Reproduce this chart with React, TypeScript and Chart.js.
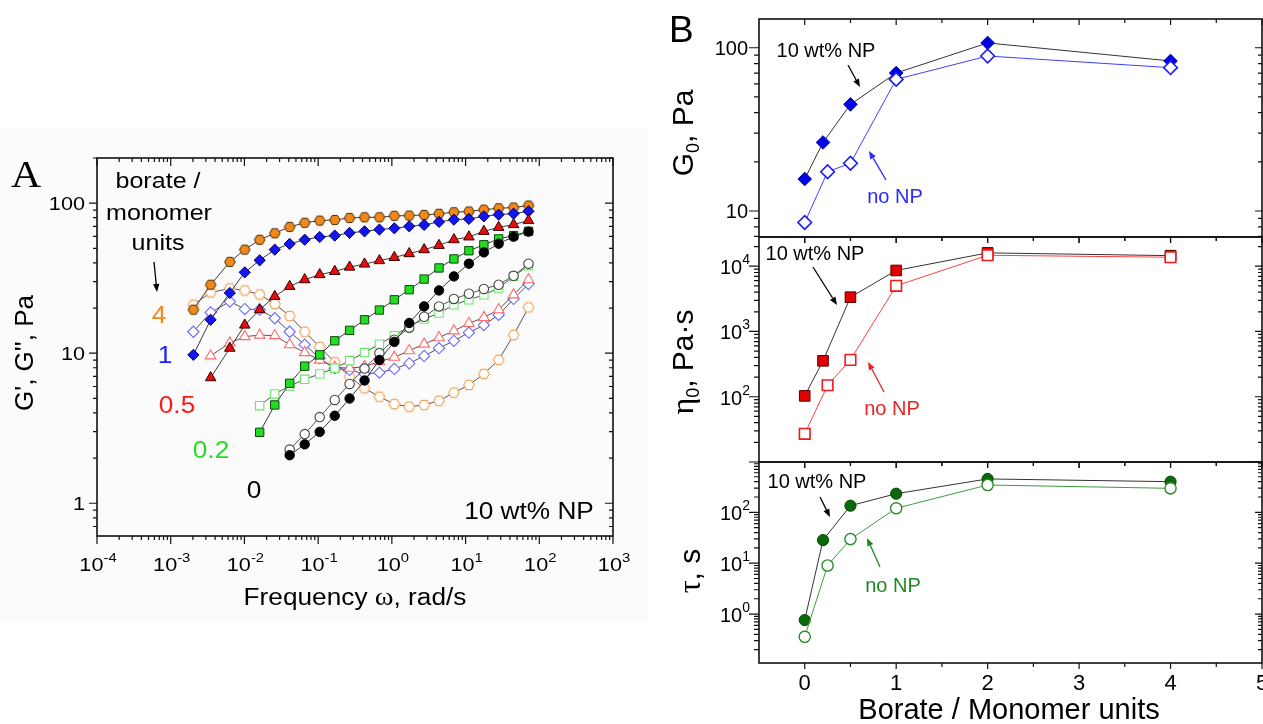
import React, { useEffect, useRef } from "react";
import { Chart, registerables } from "chart.js";
Chart.register(...registerables);

const W = 1263;
const H = 724;
const SANS = '"Liberation Sans", Arial, sans-serif';
const SERIF = '"Liberation Serif", "Times New Roman", serif';

// ---------------- Panel A data (frequency sweep, 10 wt% NP) ----------------
const omega = [0.00203, 0.00348, 0.00634, 0.0101, 0.0161, 0.0258, 0.0411, 0.0657, 0.105, 0.168, 0.267, 0.426, 0.678, 1.08, 1.72, 2.74, 4.36, 6.95, 11.1, 17.7, 28.1, 44.8, 71.4];
// borate/monomer = 4 (starts at omega[0])
const gp4 = [19.5, 28.6, 40.6, 49, 57, 63, 69.5, 74, 76.5, 77.3, 79.7, 80.5, 80.5, 82.3, 82.6, 83.5, 85, 87, 88, 90.5, 92.5, 93.5, 96.4];
const gpp4 = [21, 25.4, 27, 26.2, 24.6, 21.3, 17.7, 13.9, 11.0, 8.7, 6.98, 5.83, 5.13, 4.58, 4.4, 4.52, 4.82, 5.46, 6.14, 7.28, 9.02, 13.2, 20.2];
// borate/monomer = 1 (starts at omega[0])
const gp1 = [9.75, 16.7, 25.2, 34.6, 41.6, 49, 53.5, 57.1, 59.5, 60.8, 63.4, 64.9, 66.7, 68, 70.1, 71.6, 75, 77.6, 78.5, 81.7, 83.9, 85.2, 88.3];
const gpp1 = [13.9, 18.7, 22.1, 19.7, 19.5, 17.1, 13.9, 11.4, 9.26, 7.94, 7.73, 7.27, 7.42, 7.85, 8.57, 9.59, 10.8, 12.1, 13.7, 15.4, 18, 23, 28.9];
// borate/monomer = 0.5 (starts at omega[1])
const gp05 = [6.87, 10.8, 15.4, 19.5, 23.9, 27.9, 30.9, 33.4, 35.1, 37.5, 39.3, 41.4, 43.5, 46.1, 49, 52.3, 57.1, 59.6, 64.9, 69, 72, 76.6];
const gpp05 = [9.6, 11.7, 12.9, 13.2, 13.1, 11.4, 10.1, 9.0, 8.06, 7.94, 8.15, 8.79, 9.4, 10.4, 11.5, 12.7, 14.1, 15.8, 17.3, 19.5, 24.5, 30.9];
// borate/monomer = 0.2 (starts at omega[4])
const gp02 = [2.97, 4.52, 6.3, 8.2, 9.75, 12.1, 14.2, 16.7, 19.4, 22.7, 26.5, 31.2, 37, 42.5, 48.2, 52.8, 57.8, 60.8, 64.9];
const gpp02 = [4.47, 5.35, 6.05, 6.7, 7.28, 7.94, 8.93, 10.1, 11.5, 13.1, 15.1, 16.9, 18.5, 21, 22.7, 24.5, 27.2, 32.5, 38.3];
// borate/monomer = 0 (starts at omega[6])
const gp0 = [2.09, 2.47, 2.99, 3.83, 4.99, 6.58, 9.02, 11.9, 15.9, 20.5, 26.2, 32.5, 39.5, 47, 53.7, 59.8, 64.6];
const gpp0 = [2.28, 2.89, 3.75, 4.88, 6.24, 7.9, 10.0, 12.3, 14.8, 17.5, 20.5, 23, 24.9, 26.8, 28.6, 32.8, 39.5];

const xTicksA = [1e-4, 1e-3, 1e-2, 1e-1, 1, 10, 100, 1000];
const xTickExpA = ["-4", "-3", "-2", "-1", "0", "1", "2", "3"];
const yTicksA = [1, 10, 100];
const yTickLabA = ["1", "10", "100"];

// ---------------- Panel B data ----------------
const ratioNP = [0, 0.2, 0.5, 1, 2, 4];
const ratioNoNP = [0, 0.25, 0.5, 1, 2, 4];
const g0NP = [15.7, 26.3, 45, 70, 107, 83];
const g0NoNP = [8.5, 17.4, 19.6, 64, 89, 75.5];
const etaNP = [103, 355, 3350, 8600, 16000, 14500];
const etaNoNP = [27, 150, 367, 5000, 14700, 13700];
const tauNP = [0.76, 28.4, 135, 232, 453, 400];
const tauNoNP = [0.357, 9, 29.7, 120, 344, 296];

const xTicksB = [0, 1, 2, 3, 4, 5];
const xMinorB = [0.5, 1.5, 2.5, 3.5, 4.5];
const yTicksG0 = [10, 100];
const yTicksEta = [100, 1000, 10000];
const yTicksTau = [1, 10, 100];

// ---------------- helpers ----------------
const fnt = (size: number, fam: string = SANS) => `${size}px ${fam}`;

function pts(xs: number[], ys: number[], start = 0) {
  return ys.map((y, i) => ({ x: xs[i + start], y }));
}

function logTicks(min: number, max: number) {
  const major: number[] = [];
  const minor: number[] = [];
  for (let e = Math.floor(Math.log10(min)) - 1; e <= Math.ceil(Math.log10(max)); e++) {
    for (let k = 1; k <= 9; k++) {
      const v = k * Math.pow(10, e);
      if (v < min * 0.9999 || v > max * 1.0001) continue;
      (k === 1 ? major : minor).push(v);
    }
  }
  return { major, minor };
}

type Seg = { t: string; font: string; dy?: number };

function drawRich(ctx: any, segs: Seg[], x: number, y: number, o: any = {}) {
  const align = o.align || "left";
  ctx.save();
  ctx.translate(x, y);
  if (o.rot) ctx.rotate(o.rot);
  ctx.scale(o.sx || 1, 1);
  let w = 0;
  for (const s of segs) {
    ctx.font = s.font;
    w += ctx.measureText(s.t).width;
  }
  let cx = align === "center" ? -w / 2 : align === "right" ? -w : 0;
  ctx.fillStyle = o.color || "#000";
  ctx.textAlign = "left";
  ctx.textBaseline = "alphabetic";
  for (const s of segs) {
    ctx.font = s.font;
    ctx.fillText(s.t, cx, s.dy || 0);
    cx += ctx.measureText(s.t).width;
  }
  ctx.restore();
}

function arrow(ctx: any, x1: number, y1: number, x2: number, y2: number, color: string) {
  const ang = Math.atan2(y2 - y1, x2 - x1);
  const hl = 8, hw = 3.2;
  const bx = x2 - hl * Math.cos(ang), by = y2 - hl * Math.sin(ang);
  ctx.save();
  ctx.strokeStyle = color;
  ctx.fillStyle = color;
  ctx.lineWidth = 1.3;
  ctx.beginPath();
  ctx.moveTo(x1, y1);
  ctx.lineTo(bx, by);
  ctx.stroke();
  ctx.beginPath();
  ctx.moveTo(x2, y2);
  ctx.lineTo(bx + hw * Math.sin(ang), by - hw * Math.cos(ang));
  ctx.lineTo(bx - hw * Math.sin(ang), by + hw * Math.cos(ang));
  ctx.closePath();
  ctx.fill();
  ctx.restore();
}

function makeHex(r: number, fill: string, stroke: string, lw: number) {
  const size = Math.ceil(2 * r + lw + 2);
  const c = document.createElement("canvas");
  c.width = size;
  c.height = size;
  const g = c.getContext("2d")!;
  const cx = size / 2, cy = size / 2;
  g.beginPath();
  for (let i = 0; i < 6; i++) {
    const a = (Math.PI / 3) * i;
    const px = cx + r * Math.cos(a), py = cy + r * Math.sin(a);
    if (i === 0) g.moveTo(px, py);
    else g.lineTo(px, py);
  }
  g.closePath();
  g.fillStyle = fill;
  g.fill();
  g.lineWidth = lw;
  g.strokeStyle = stroke;
  g.stroke();
  return c;
}

function baseOptions(l: number, t: number, r: number, b: number, xs: any, ys: any) {
  return {
    responsive: false,
    maintainAspectRatio: false,
    animation: false,
    devicePixelRatio: 1,
    events: [],
    layout: { autoPadding: false, padding: { left: l, top: t, right: W - r, bottom: H - b } },
    scales: {
      x: { ...xs, display: false, bounds: "data" },
      y: { ...ys, display: false, bounds: "data" },
    },
    plugins: { legend: { display: false }, tooltip: { enabled: false }, title: { display: false } },
    elements: { line: { tension: 0 } },
  };
}

// ---------------- Panel A decorations ----------------
function drawA(chart: any) {
  const ctx = chart.ctx;
  const ca = chart.chartArea;
  const xs = chart.scales.x;
  const ys = chart.scales.y;
  ctx.save();
  ctx.strokeStyle = "#111";
  ctx.lineWidth = 1.6;
  ctx.strokeRect(ca.left, ca.top, ca.right - ca.left, ca.bottom - ca.top);
  ctx.lineWidth = 1.2;
  const tx = logTicks(xs.min, xs.max);
  const ty = logTicks(ys.min, ys.max);
  ctx.beginPath();
  const vt = (v: number, len: number) => {
    const p = xs.getPixelForValue(v);
    ctx.moveTo(p, ca.bottom);
    ctx.lineTo(p, ca.bottom + len);
    ctx.moveTo(p, ca.top);
    ctx.lineTo(p, ca.top + len);
  };
  const ht = (v: number, len: number) => {
    const p = ys.getPixelForValue(v);
    ctx.moveTo(ca.left, p);
    ctx.lineTo(ca.left - len, p);
    ctx.moveTo(ca.right, p);
    ctx.lineTo(ca.right - len, p);
  };
  tx.major.forEach((v) => vt(v, 8));
  tx.minor.forEach((v) => vt(v, 4));
  ty.major.forEach((v) => ht(v, 8));
  ty.minor.forEach((v) => ht(v, 4));
  ctx.stroke();

  const sx = 1.14;
  xTicksA.forEach((v, i) => {
    const p = xs.getPixelForValue(v);
    drawRich(ctx, [{ t: "10", font: fnt(19) }, { t: xTickExpA[i], font: fnt(13), dy: -9 }], p + 1, 571, { align: "center", sx });
  });
  yTicksA.forEach((v, i) => {
    const p = ys.getPixelForValue(v);
    drawRich(ctx, [{ t: yTickLabA[i], font: fnt(19) }], ca.left - 12, p + 7, { align: "right", sx });
  });

  // titles
  drawRich(ctx, [{ t: "A", font: fnt(38, SERIF) }], 11, 187, { sx: 1.1 });
  drawRich(ctx, [{ t: "G', G'', Pa", font: fnt(26) }], 33, 353, { align: "center", rot: -Math.PI / 2 });
  drawRich(ctx, [
    { t: "Frequency ", font: fnt(23) },
    { t: "\u03c9", font: fnt(25, SERIF) },
    { t: ", rad/s", font: fnt(23) },
  ], 355, 605, { align: "center", sx });

  // legend-like annotations
  drawRich(ctx, [{ t: "borate /", font: fnt(22) }], 158, 188, { align: "center", sx });
  drawRich(ctx, [{ t: "monomer", font: fnt(22) }], 159, 220, { align: "center", sx });
  drawRich(ctx, [{ t: "units", font: fnt(22) }], 158, 250, { align: "center", sx });
  arrow(ctx, 154, 262, 157, 292, "#000");
  drawRich(ctx, [{ t: "4", font: fnt(23) }], 159, 323, { align: "center", sx, color: "#f08a1e" });
  drawRich(ctx, [{ t: "1", font: fnt(23) }], 165, 363, { align: "center", sx, color: "#1a1aff" });
  drawRich(ctx, [{ t: "0.5", font: fnt(23) }], 177, 413, { align: "center", sx, color: "#ff1a1a" });
  drawRich(ctx, [{ t: "0.2", font: fnt(23) }], 211, 458, { align: "center", sx, color: "#22dd22" });
  drawRich(ctx, [{ t: "0", font: fnt(23) }], 254, 498, { align: "center", sx, color: "#000" });
  drawRich(ctx, [{ t: "10 wt% NP", font: fnt(23) }], 529, 519, { align: "center", sx });
  ctx.restore();
}

// ---------------- Panel B decorations ----------------
function frameB(chart: any) {
  const ctx = chart.ctx;
  const ca = chart.chartArea;
  const xs = chart.scales.x;
  const ys = chart.scales.y;
  ctx.save();
  ctx.strokeStyle = "#111";
  ctx.lineWidth = 1.6;
  ctx.strokeRect(ca.left, ca.top, ca.right - ca.left, ca.bottom - ca.top);
  ctx.lineWidth = 1.2;
  ctx.beginPath();
  const vt = (v: number, len: number) => {
    const p = xs.getPixelForValue(v);
    ctx.moveTo(p, ca.top);
    ctx.lineTo(p, ca.top + len);
    ctx.moveTo(p, ca.bottom);
    ctx.lineTo(p, ca.bottom + len);
  };
  xTicksB.forEach((v) => vt(v, 6));
  xMinorB.forEach((v) => vt(v, 4));
  const ty = logTicks(ys.min, ys.max);
  const ht = (v: number, lo: number, li: number) => {
    const p = ys.getPixelForValue(v);
    ctx.moveTo(ca.left, p);
    ctx.lineTo(ca.left - lo, p);
    ctx.moveTo(ca.right, p);
    ctx.lineTo(ca.right - li, p);
  };
  ty.major.forEach((v) => ht(v, 10, 7));
  ty.minor.forEach((v) => ht(v, 5, 4));
  ctx.stroke();
  ctx.restore();
}

function powLabels(chart: any, vals: number[]) {
  const ctx = chart.ctx;
  const ys = chart.scales.y;
  const ca = chart.chartArea;
  vals.forEach((v) => {
    const p = ys.getPixelForValue(v);
    const e = String(Math.round(Math.log10(v)));
    drawRich(ctx, [{ t: "10", font: fnt(20) }, { t: e, font: fnt(14), dy: -10 }], ca.left - 9, p + 8, { align: "right" });
  });
}

function drawB1(chart: any) {
  frameB(chart);
  const ctx = chart.ctx;
  const ys = chart.scales.y;
  const ca = chart.chartArea;
  yTicksG0.forEach((v) => {
    const p = ys.getPixelForValue(v);
    drawRich(ctx, [{ t: String(v), font: fnt(20) }], ca.left - 11, p + 7.5, { align: "right" });
  });
  drawRich(ctx, [{ t: "B", font: fnt(37) }], 669, 42, {});
  drawRich(ctx, [
    { t: "G", font: fnt(30) },
    { t: "0", font: fnt(18), dy: 6 },
    { t: ", Pa", font: fnt(30) },
  ], 693, 133, { align: "center", rot: -Math.PI / 2 });
  drawRich(ctx, [{ t: "10 wt% NP", font: fnt(20) }], 826, 57, { align: "center" });
  arrow(ctx, 848, 65, 860, 87, "#000");
  drawRich(ctx, [{ t: "no NP", font: fnt(20) }], 895, 203, { align: "center", color: "#2a2aff" });
  arrow(ctx, 886, 180, 869, 151, "#2a2aff");
}

function drawB2(chart: any) {
  frameB(chart);
  const ctx = chart.ctx;
  powLabels(chart, yTicksEta);
  drawRich(ctx, [
    { t: "\u03b7", font: fnt(32, SERIF) },
    { t: "0", font: fnt(18), dy: 6 },
    { t: ", Pa\u00b7s", font: fnt(30) },
  ], 693, 362, { align: "center", rot: -Math.PI / 2 });
  drawRich(ctx, [{ t: "10 wt% NP", font: fnt(20) }], 815, 260, { align: "center" });
  arrow(ctx, 813, 267, 837, 305, "#000");
  drawRich(ctx, [{ t: "no NP", font: fnt(20) }], 892, 415, { align: "center", color: "#ee2222" });
  arrow(ctx, 884, 392, 868, 362, "#ee2222");
}

function drawB3(chart: any) {
  frameB(chart);
  const ctx = chart.ctx;
  const xs = chart.scales.x;
  powLabels(chart, yTicksTau);
  xTicksB.forEach((v) => {
    const p = xs.getPixelForValue(v);
    drawRich(ctx, [{ t: String(v), font: fnt(22) }], p, 690, { align: "center" });
  });
  drawRich(ctx, [
    { t: "\u03c4", font: fnt(32, SERIF) },
    { t: ", s", font: fnt(30) },
  ], 700, 571, { align: "center", rot: -Math.PI / 2 });
  drawRich(ctx, [{ t: "Borate / Monomer units", font: fnt(29) }], 1009, 719, { align: "center" });
  drawRich(ctx, [{ t: "10 wt% NP", font: fnt(20) }], 817, 488, { align: "center" });
  arrow(ctx, 820, 497, 830, 517, "#000");
  drawRich(ctx, [{ t: "no NP", font: fnt(20) }], 893, 592, { align: "center", color: "#1e8a1e" });
  arrow(ctx, 880, 567, 867, 538, "#1e8a1e");
}

function ds(data: any[], style: any, r: number, bg: string, bd: string, bw: number, line: string) {
  return {
    data,
    showLine: true,
    pointStyle: style,
    pointRadius: r,
    pointBackgroundColor: bg,
    pointBorderColor: bd,
    pointBorderWidth: bw,
    borderColor: line,
    borderWidth: 1,
    backgroundColor: bg,
    fill: false,
    tension: 0,
  };
}

export default function App() {
  const refA = useRef<HTMLCanvasElement>(null);
  const refB1 = useRef<HTMLCanvasElement>(null);
  const refB2 = useRef<HTMLCanvasElement>(null);
  const refB3 = useRef<HTMLCanvasElement>(null);

  useEffect(() => {
    const charts: Chart[] = [];
    const hexF = makeHex(5.3, "#f0891a", "#4a2a00", 1);
    const hexO = makeHex(5.3, "#ffffff", "#f2a860", 1.2);
    const lineA = "#3a3a3a";

    const dsA = [
      ds(pts(omega, gp0, 6), "circle", 4.7, "#000000", "#000000", 1, lineA),
      ds(pts(omega, gp02, 4), "rect", 5.9, "#22dd22", "#0a4a0a", 1, lineA),
      ds(pts(omega, gp05, 1), "triangle", 6.1, "#e41010", "#3a0000", 1, lineA),
      ds(pts(omega, gp1, 0), "rectRot", 5.6, "#1414f0", "#00006a", 1, lineA),
      ds(pts(omega, gp4, 0), hexF, 5.3, "#f0891a", "#4a2a00", 1, lineA),
      ds(pts(omega, gpp0, 6), "circle", 4.7, "#ffffff", "#444444", 1.1, "#555555"),
      ds(pts(omega, gpp02, 4), "rect", 5.9, "#ffffff", "#6ae86a", 1.1, "#555555"),
      ds(pts(omega, gpp05, 1), "triangle", 6.1, "#ffffff", "#ff6a6a", 1.1, "#555555"),
      ds(pts(omega, gpp1, 0), "rectRot", 5.6, "#ffffff", "#6a6aff", 1.1, "#555555"),
      ds(pts(omega, gpp4, 0), hexO, 5.3, "#ffffff", "#f2a860", 1.1, "#555555"),
    ];
    charts.push(
      new Chart(refA.current as any, {
        type: "scatter",
        data: { datasets: dsA as any },
        options: baseOptions(97, 158, 613, 536, { type: "logarithmic", min: 1e-4, max: 1e3 }, { type: "logarithmic", min: 0.605, max: 200 }) as any,
        plugins: [{ id: "decoA", afterDraw: drawA }],
      })
    );

    const xB = { type: "linear", min: -0.5, max: 5 };
    charts.push(
      new Chart(refB1.current as any, {
        type: "scatter",
        data: {
          datasets: [
            ds(pts(ratioNoNP, g0NoNP), "rectRot", 6.8, "#ffffff", "#1a1aff", 1.6, "#4040ff"),
            ds(pts(ratioNP, g0NP), "rectRot", 6.8, "#0000e6", "#0000a0", 1, "#333333"),
          ] as any,
        },
        options: baseOptions(759, 19, 1262, 237, xB, { type: "logarithmic", min: 6.93, max: 150 }) as any,
        plugins: [{ id: "decoB1", afterDraw: drawB1 }],
      })
    );
    charts.push(
      new Chart(refB2.current as any, {
        type: "scatter",
        data: {
          datasets: [
            ds(pts(ratioNoNP, etaNoNP), "rect", 7.5, "#ffffff", "#ee1a1a", 1.6, "#ff4040"),
            ds(pts(ratioNP, etaNP), "rect", 7.5, "#e00000", "#5a0000", 1, "#333333"),
          ] as any,
        },
        options: baseOptions(759, 237, 1262, 462, xB, { type: "logarithmic", min: 10, max: 28000 }) as any,
        plugins: [{ id: "decoB2", afterDraw: drawB2 }],
      })
    );
    charts.push(
      new Chart(refB3.current as any, {
        type: "scatter",
        data: {
          datasets: [
            ds(pts(ratioNoNP, tauNoNP), "circle", 5.6, "#ffffff", "#2a8a2a", 1.4, "#3c9c3c"),
            ds(pts(ratioNP, tauNP), "circle", 5.6, "#0a6a0a", "#064a06", 1, "#333333"),
          ] as any,
        },
        options: baseOptions(759, 462, 1262, 663, xB, { type: "logarithmic", min: 0.109, max: 975 }) as any,
        plugins: [{ id: "decoB3", afterDraw: drawB3 }],
      })
    );

    return () => charts.forEach((c) => c.destroy());
  }, []);

  const cs: React.CSSProperties = { position: "absolute", left: 0, top: 0, width: W, height: H };
  return (
    <div style={{ position: "absolute", left: 0, top: 0, width: W, height: H, background: "#ffffff", overflow: "hidden" }}>
      <div style={{ position: "absolute", left: 0, top: 128, width: 648, height: 494, background: "#fbfbfb" }} />
      <canvas ref={refA} width={W} height={H} style={cs} />
      <canvas ref={refB1} width={W} height={H} style={cs} />
      <canvas ref={refB2} width={W} height={H} style={cs} />
      <canvas ref={refB3} width={W} height={H} style={cs} />
    </div>
  );
}
